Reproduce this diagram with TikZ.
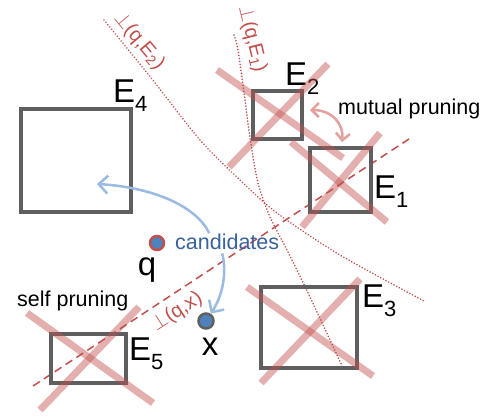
\documentclass[tikz,border=0pt]{standalone}
\usepackage{fontspec}
\setmainfont{Liberation Sans}
\usetikzlibrary{arrows.meta}
\definecolor{boxgray}{RGB}{95,95,95}
\definecolor{prunered}{RGB}{192,80,77}
\definecolor{candblue}{RGB}{79,129,189}
\definecolor{arrowblue}{RGB}{155,187,226}
\definecolor{candtext}{RGB}{58,98,158}
\definecolor{mutualred}{RGB}{226,160,158}
\tikzset{
  entrybox/.style={draw=boxgray, line width=4pt, inner sep=0pt},
  entrylabel/.style={anchor=base west, inner sep=0pt, font=\fontsize{33}{33}\selectfont},
  crossline/.style={prunered, line width=7pt, opacity=0.45},
  bisector/.style={prunered, line width=1.8pt, line cap=round, dash pattern=on 0.01pt off 3pt},
  hyperplane/.style={prunered, line width=1.5pt, dash pattern=on 8pt off 5pt},
  perplabel/.style={text=prunered, inner sep=0pt, font=\fontsize{20}{20}\selectfont},
  note/.style={anchor=base west, inner sep=0pt, font=\fontsize{21.5}{21.5}\selectfont},
  candarrow/.style={-{Straight Barb[length=9pt, width=18pt]}, arrowblue, line width=2.5pt},
  mutualarrow/.style={{Straight Barb[length=7pt, width=14pt]}-{Straight Barb[length=7pt, width=14pt]}, mutualred, line width=2.5pt},
  pointdot/.style={circle, fill=candblue, line width=2.5pt, minimum size=14pt, inner sep=0pt}
}
\newcommand{\elab}[1]{E\raisebox{-9pt}{\fontsize{22}{22}\selectfont #1}}
\newcommand{\prune}[4]{\draw[crossline] #1 -- #2; \draw[crossline] #3 -- #4;}

\begin{document}
\begin{tikzpicture}[x=1pt, y=-1pt]
  \useasboundingbox (0,0) rectangle (488,418);

  % bisectors of q and the entries
  \draw[bisector] plot[smooth] coordinates {(104,20) (152,79) (200,140) (240,180) (277,213) (340,255) (424,301)};
  \draw[bisector] plot[smooth] coordinates {(234,35) (238,50) (245,100) (250,138) (258,183) (270,217) (287,250) (310,297) (343,368)};
  \node[perplabel, rotate=-50] (perpe2) at (139,41) {$\perp$(q,E\textsubscript{2})};
  \node[perplabel, rotate=-76] (perpe1) at (252,39) {$\perp$(q,E\textsubscript{1})};

  % bisector of q and x
  \coordinate (hxa) at (33,386);
  \coordinate (hxb) at (412,137);
  \draw[hyperplane] (hxa) -- (hxb);
  \node[perplabel, rotate=33] (perpx) at (177,312) {$\perp$(q,x)};

  % entries
  \node[entrybox, minimum width=110pt, minimum height=103pt] (E4) at (76,160.5) {};
  \node[entrybox, minimum width=49pt, minimum height=48pt] (E2) at (277.5,115) {};
  \node[entrybox, minimum width=61pt, minimum height=64pt] (E1) at (340.5,180) {};
  \node[entrybox, minimum width=96pt, minimum height=81pt] (E3) at (309,327.5) {};
  \node[entrybox, minimum width=75pt, minimum height=49pt] (E5) at (88.5,358.5) {};
  \node[entrylabel] (E4lab) at (113,102) {\elab{4}};
  \node[entrylabel] (E2lab) at (285,85) {\elab{2}};
  \node[entrylabel] (E1lab) at (374,198) {\elab{1}};
  \node[entrylabel] (E3lab) at (362,307) {\elab{3}};
  \node[entrylabel] (E5lab) at (129,360) {\elab{5}};

  % pruned entries
  \prune{(217,70)}{(343,158)}{(328,64)}{(229,167)}
  \prune{(291,142)}{(387,222)}{(380,133)}{(302,227)}
  \prune{(247,287)}{(373,376)}{(360,279)}{(261,383)}
  \prune{(27,313)}{(153,403)}{(139,307)}{(40,410)}

  % query and data point
  \node[pointdot, draw=prunered] (qdot) at (157,243) {};
  \node[pointdot, draw=boxgray, minimum size=15pt] (xdot) at (206,321) {};
  \node[entrylabel, anchor=base] (qlab) at (147,275) {q};
  \node[entrylabel, anchor=base] (xlab) at (210,355) {x};

  \node[note, text=candtext] (cand) at (175,249) {candidates};
  \node[note] (selfnote) at (17,306) {self pruning};
  \node[note] (mutualnote) at (338,114) {mutual pruning};

  \coordinate (e4tip) at (97,184);
  \draw[candarrow] ([xshift=-18pt]cand.north) .. controls (196,205) and (150,187) .. (e4tip);
  \draw[candarrow] ([xshift=-5pt,yshift=-4pt]cand.south) .. controls (227,272) and (223,295) .. (xdot);
  \draw[mutualarrow] ([shift={(6pt,5pt)}]E2.east) .. controls (332,110) and (344,124) .. ([shift={(1.5pt,4pt)}]E1.north);
\end{tikzpicture}
\end{document}
